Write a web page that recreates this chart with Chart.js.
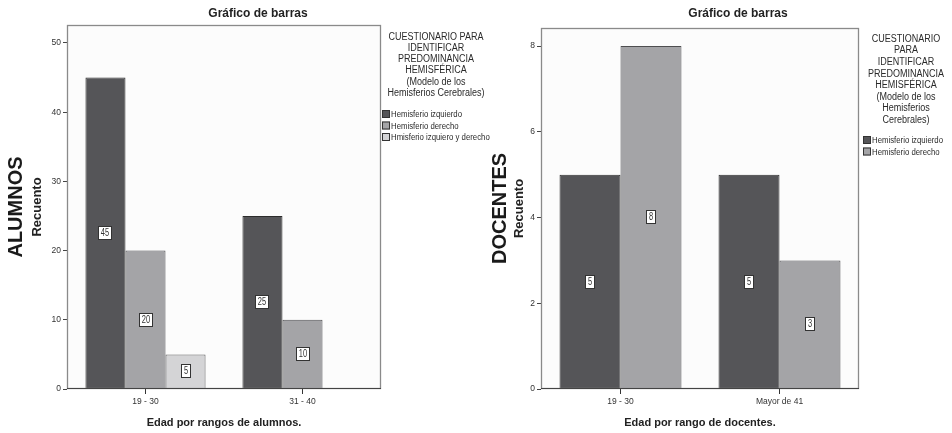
<!DOCTYPE html>
<html>
<head>
<meta charset="utf-8">
<script src="https://cdn.jsdelivr.net/npm/chart.js@4/dist/chart.umd.min.js"></script>
<style>
  html, body { margin: 0; padding: 0; background: #ffffff; }
  #wrap { position: relative; width: 952px; height: 433px; overflow: hidden; }
  #c1 { position: absolute; left: 0; top: 0; }
  #c2 { position: absolute; left: 480px; top: 0; }
</style>
</head>
<body>
<div id="wrap">
  <canvas id="c1" width="500" height="433"></canvas>
  <canvas id="c2" width="472" height="433"></canvas>
</div>
<script>
// ---- Alumnos ----
const alumnosCategorias = ['19 - 30', '31 - 40'];
const alumnosIzquierdo = [45, 25];
const alumnosDerecho = [20, 10];
const alumnosAmbos = [5, null];
const alumnosTicks = [0, 10, 20, 30, 40, 50];
const alumnosSeries = ['Hemisferio izquierdo', 'Hemisferio derecho', 'Hmisferio izquiero y derecho'];
const alumnosLeyendaTitulo = ['CUESTIONARIO PARA', 'IDENTIFICAR', 'PREDOMINANCIA', 'HEMISFÉRICA', '(Modelo de los', 'Hemisferios Cerebrales)'];

// ---- Docentes ----
const docentesCategorias = ['19 - 30', 'Mayor de 41'];
const docentesIzquierdo = [5, 5];
const docentesDerecho = [8, 3];
const docentesTicks = [0, 2, 4, 6, 8];
const docentesSeries = ['Hemisferio izquierdo', 'Hemisferio derecho'];
const docentesLeyendaTitulo = ['CUESTIONARIO', 'PARA', 'IDENTIFICAR', 'PREDOMINANCIA', 'HEMISFÉRICA', '(Modelo de los', 'Hemisferios', 'Cerebrales)'];

const FILL = ['#555558', '#a4a4a7', '#d4d4d6'];
const EDGE = ['#2c2c2c', '#4e4e50', '#5c5c5e'];
const SANS = '"Liberation Sans", Arial, sans-serif';

// text squeezed horizontally, like a condensed face
function condensed(ctx, txt, x, y, sx) {
  ctx.save();
  ctx.translate(x, y);
  ctx.scale(sx, 1);
  ctx.fillText(txt, 0, 0);
  ctx.restore();
}

// Plot frame, value boxes, chart title, side label and legend block
const decor = {
  id: 'decor',
  beforeDatasetsDraw(chart) {
    const a = chart.chartArea, ctx = chart.ctx;
    ctx.save();
    ctx.fillStyle = '#fcfcfc';
    ctx.fillRect(a.left, a.top, a.right - a.left, a.bottom - a.top);
    ctx.restore();
  },
  afterDatasetsDraw(chart, args, o) {
    const a = chart.chartArea, ctx = chart.ctx;
    ctx.save();
    // frame
    ctx.strokeStyle = '#8a8a8a';
    ctx.lineWidth = 1.3;
    ctx.strokeRect(a.left + 0.5, a.top + 0.5, a.right - a.left - 1, a.bottom - a.top - 1);
    ctx.strokeStyle = '#444';
    ctx.lineWidth = 1.2;
    ctx.beginPath();
    ctx.moveTo(a.left, a.bottom - 0.5);
    ctx.lineTo(a.right, a.bottom - 0.5);
    ctx.stroke();

    // value boxes at mid-height of each bar
    ctx.font = '10px ' + SANS;
    ctx.textAlign = 'center';
    ctx.textBaseline = 'middle';
    chart.data.datasets.forEach((ds, di) => {
      const meta = chart.getDatasetMeta(di);
      meta.data.forEach((el, i) => {
        const v = ds.data[i];
        if (v === null || v === undefined) return;
        const cx = Math.round(el.x);
        const cy = Math.round((el.y + el.base) / 2);
        const txt = String(v);
        const w = Math.ceil(ctx.measureText(txt).width * 0.75) + 5;
        const h = 14;
        ctx.fillStyle = '#ffffff';
        ctx.fillRect(cx - w / 2, cy - h / 2, w, h);
        ctx.strokeStyle = '#333';
        ctx.lineWidth = 1;
        ctx.strokeRect(cx - w / 2 + 0.5, cy - h / 2 + 0.5, w - 1, h - 1);
        ctx.fillStyle = '#333';
        condensed(ctx, txt, cx, cy + 0.5, 0.75);
      });
    });
    ctx.restore();
  },
  afterDraw(chart, args, o) {
    const a = chart.chartArea, ctx = chart.ctx;
    ctx.save();
    // chart title
    ctx.fillStyle = '#222';
    ctx.font = 'bold 12px ' + SANS;
    ctx.textAlign = 'center';
    ctx.textBaseline = 'middle';
    ctx.fillText(o.title, o.titleX, 14);

    // side label
    ctx.save();
    ctx.translate(o.sideX, (a.top + a.bottom) / 2);
    ctx.rotate(-Math.PI / 2);
    ctx.font = 'bold 20px ' + SANS;
    ctx.fillStyle = '#1a1a1a';
    ctx.fillText(o.side, 0, 0);
    ctx.restore();

    // legend title
    ctx.font = '10px ' + SANS;
    ctx.fillStyle = '#2a2a2a';
    o.legendTitle.forEach((line, i) => {
      condensed(ctx, line, o.legendX, o.legendY + i * o.legendStep, 0.9);
    });

    // legend items
    ctx.textAlign = 'left';
    ctx.font = '9.5px ' + SANS;
    chart.data.datasets.forEach((ds, i) => {
      const y = o.itemY + i * o.itemStep;
      ctx.fillStyle = ds.backgroundColor;
      ctx.fillRect(o.itemX, y - 4, 8, 8);
      ctx.strokeStyle = '#333';
      ctx.lineWidth = 1;
      ctx.strokeRect(o.itemX + 0.5, y - 3.5, 7, 7);
      ctx.fillStyle = '#2a2a2a';
      condensed(ctx, ds.label, o.itemX + 9, y + 0.5, 0.82);
    });
    ctx.restore();
  }
};

function makeOptions(cfg) {
  return {
    responsive: false,
    animation: false,
    layout: { padding: cfg.padding },
    plugins: {
      legend: { display: false },
      tooltip: { enabled: false },
      title: { display: false },
      decor: cfg.decor
    },
    scales: {
      x: {
        type: 'category',
        offset: true,
        grid: { display: true, drawOnChartArea: false, drawTicks: true, tickLength: 5, offset: false, color: '#333', lineWidth: 1 },
        border: { display: false },
        ticks: { font: { family: SANS, size: 8.5 }, color: '#333', padding: 3, maxRotation: 0 },
        title: { display: true, text: cfg.xTitle, font: { family: SANS, size: 11, weight: 'bold' }, color: '#222', padding: { top: 4, bottom: 3 } },
        afterFit(s) { s.height = 44; }
      },
      y: {
        min: 0,
        max: cfg.yMax,
        grid: { drawOnChartArea: false, drawTicks: true, tickLength: 4, color: '#444' },
        border: { display: false },
        ticks: { font: { family: SANS, size: 8.5 }, color: '#333', padding: 2, includeBounds: false },
        afterBuildTicks(s) { s.ticks = cfg.yTicks.map(v => ({ value: v })); },
        title: { display: true, text: 'Recuento', font: { family: SANS, size: 13, weight: 'bold' }, color: '#222', padding: 0 },
        afterFit(s) { s.width = cfg.yWidth; }
      }
    }
  };
}

new Chart(document.getElementById('c1'), {
  type: 'bar',
  data: {
    labels: alumnosCategorias,
    datasets: [
      { label: alumnosSeries[0], data: alumnosIzquierdo, backgroundColor: FILL[0], borderColor: EDGE[0], borderWidth: 1, barPercentage: 1, categoryPercentage: 0.765 },
      { label: alumnosSeries[1], data: alumnosDerecho, backgroundColor: FILL[1], borderColor: EDGE[1], borderWidth: 1, barPercentage: 1, categoryPercentage: 0.765 },
      { label: alumnosSeries[2], data: alumnosAmbos, backgroundColor: FILL[2], borderColor: EDGE[2], borderWidth: 1, barPercentage: 1, categoryPercentage: 0.765 }
    ]
  },
  options: makeOptions({
    padding: { left: 30, top: 25, right: 119, bottom: 0 },
    yMax: 52.6,
    yTicks: alumnosTicks,
    yWidth: 37,
    xTitle: 'Edad por rangos de alumnos.',
    decor: {
      title: 'Gráfico de barras', titleX: 258,
      side: 'ALUMNOS', sideX: 16,
      legendTitle: alumnosLeyendaTitulo, legendX: 436, legendY: 37, legendStep: 11.2,
      itemX: 382, itemY: 114, itemStep: 11.5
    }
  }),
  plugins: [decor]
});

new Chart(document.getElementById('c2'), {
  type: 'bar',
  data: {
    labels: docentesCategorias,
    datasets: [
      { label: docentesSeries[0], data: docentesIzquierdo, backgroundColor: FILL[0], borderColor: EDGE[0], borderWidth: 1, barPercentage: 1, categoryPercentage: 0.767 },
      { label: docentesSeries[1], data: docentesDerecho, backgroundColor: FILL[1], borderColor: EDGE[1], borderWidth: 1, barPercentage: 1, categoryPercentage: 0.767 }
    ]
  },
  options: makeOptions({
    padding: { left: 32, top: 28, right: 93, bottom: 0 },
    yMax: 8.42,
    yTicks: docentesTicks,
    yWidth: 29,
    xTitle: 'Edad por rango de docentes.',
    decor: {
      title: 'Gráfico de barras', titleX: 258,
      side: 'DOCENTES', sideX: 20,
      legendTitle: docentesLeyendaTitulo, legendX: 426, legendY: 39, legendStep: 11.6,
      itemX: 383, itemY: 140, itemStep: 11.5
    }
  }),
  plugins: [decor]
});
</script>
</body>
</html>
